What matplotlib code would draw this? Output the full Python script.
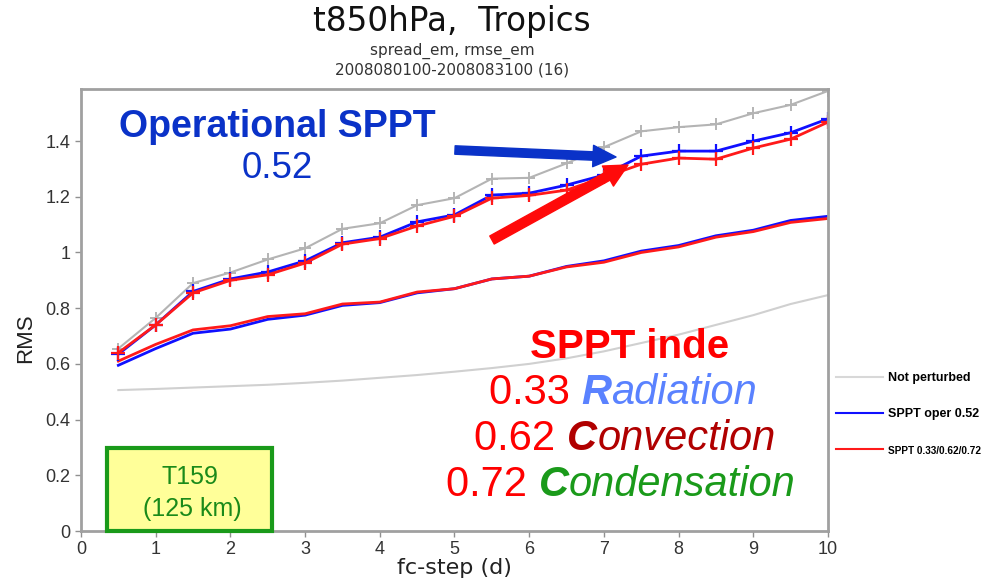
import matplotlib
matplotlib.use("Agg")
import matplotlib.pyplot as plt
from matplotlib.patches import Rectangle
from matplotlib.lines import Line2D
from matplotlib.ticker import FuncFormatter

plt.rcParams['font.family'] = ['Liberation Sans', 'DejaVu Sans']

# forecast step (days)
steps = [0.5, 1, 1.5, 2, 2.5, 3, 3.5, 4, 4.5, 5,
         5.5, 6, 6.5, 7, 7.5, 8, 8.5, 9, 9.5, 10]

# rmse of ensemble mean (with + markers)
rmse_noper = [0.655, 0.765, 0.89, 0.928, 0.975, 1.015, 1.085, 1.105, 1.17, 1.195,
              1.265, 1.268, 1.32, 1.378, 1.435, 1.45, 1.46, 1.50, 1.53, 1.58]
rmse_oper = [0.635, 0.74, 0.86, 0.905, 0.93, 0.97, 1.035, 1.055, 1.11, 1.135,
             1.206, 1.213, 1.242, 1.278, 1.346, 1.364, 1.364, 1.40, 1.43, 1.48]
rmse_inde = [0.64, 0.74, 0.855, 0.90, 0.92, 0.962, 1.03, 1.05, 1.095, 1.13,
             1.195, 1.205, 1.224, 1.27, 1.317, 1.339, 1.335, 1.375, 1.407, 1.468]

# ensemble spread (no markers)
spread_noper = [0.506, 0.51, 0.515, 0.52, 0.525, 0.532, 0.54, 0.55, 0.56, 0.572,
                0.585, 0.60, 0.62, 0.645, 0.675, 0.705, 0.74, 0.775, 0.815, 0.847]
spread_oper = [0.595, 0.655, 0.71, 0.725, 0.76, 0.775, 0.81, 0.82, 0.855, 0.87,
               0.905, 0.915, 0.95, 0.97, 1.005, 1.025, 1.06, 1.08, 1.115, 1.13]
spread_inde = [0.61, 0.67, 0.722, 0.737, 0.77, 0.78, 0.815, 0.822, 0.858, 0.87,
               0.905, 0.915, 0.948, 0.965, 1.0, 1.02, 1.055, 1.075, 1.108, 1.122]

legend_labels = ["Not perturbed", "SPPT oper 0.52", "SPPT 0.33/0.62/0.72"]

W, H = 995, 581
fig = plt.figure(figsize=(W / 100, H / 100), dpi=100)
ax = fig.add_axes([81 / W, 1 - 531 / H, (828 - 81) / W, (531 - 89) / H])

GRAY_R = '#b4b4b4'
GRAY_S = '#d0d0d0'
BLUE = '#1010ff'
RED = '#ff1a1a'
WIDE = ['DejaVu Sans']

ax.plot(steps, spread_noper, color=GRAY_S, lw=1.5)
ax.plot(steps, spread_oper, color=BLUE, lw=2)
ax.plot(steps, spread_inde, color=RED, lw=2)
ax.plot(steps, rmse_noper, color=GRAY_R, lw=1.5, marker='+', ms=9, mew=1.4)
ax.plot(steps, rmse_oper, color=BLUE, lw=2, marker='+', ms=10, mew=1.6)
ax.plot(steps, rmse_inde, color=RED, lw=2, marker='+', ms=10, mew=1.6)

ax.set_xlim(0, 10)
ax.set_ylim(0, 1.587)
ax.set_xticks(range(0, 11))
ax.set_yticks([0, 0.2, 0.4, 0.6, 0.8, 1.0, 1.2, 1.4])
ax.yaxis.set_major_formatter(FuncFormatter(lambda v, p: '%g' % round(v, 1)))
for s in ax.spines.values():
    s.set_color('#a0a0a0')
    s.set_linewidth(2)
ax.tick_params(colors='#909090', labelcolor='#333333', labelsize=13,
               length=4, width=1, direction='out')
ax.set_xlabel('fc-step (d)', fontsize=16, color='#222222', labelpad=0,
              family=WIDE)
fig.text(26 / W, 1 - 338 / H, 'RMS', fontsize=16, color='#222222',
         rotation=90, ha='center', va='center')

# titles
fig.text(452 / W, 1 - 21 / H, 't850hPa,  Tropics', fontsize=23.5,
         ha='center', va='center', color='#111111', family=WIDE)
fig.text(452 / W, 1 - 51 / H, 'spread_em, rmse_em', fontsize=11,
         ha='center', va='center', color='#333333', family=WIDE)
fig.text(452 / W, 1 - 70 / H, '2008080100-2008083100 (16)', fontsize=11,
         ha='center', va='center', color='#333333', family=WIDE)

# legend outside on the right
handles = [Line2D([], [], color='#d8d8d8', lw=1.5),
           Line2D([], [], color=BLUE, lw=1.5),
           Line2D([], [], color=RED, lw=1.5)]
leg = fig.legend(handles, legend_labels, loc='upper left',
                 bbox_to_anchor=(836 / W, 1 - 372 / H), frameon=False,
                 fontsize=9, handlelength=3.8, handletextpad=0.4,
                 labelspacing=1.95, borderaxespad=0, borderpad=0)
for t in leg.get_texts():
    t.set_fontweight('bold')
leg.get_texts()[2].set_fontsize(7.2)

# annotations
fig.text(277 / W, 1 - 127 / H, 'Operational SPPT', fontsize=27, fontweight='bold',
         color='#0a32c8', ha='center', va='center')
fig.text(277 / W, 1 - 168 / H, '0.52', fontsize=26.5, color='#0a32c8',
         ha='center', va='center')
fig.text(630 / W, 1 - 347 / H, 'SPPT inde', fontsize=29, fontweight='bold',
         color='#ff0000', ha='center', va='center')

fig.canvas.draw()
renderer = fig.canvas.get_renderer()


def rich_line(xc, y, pieces, size=30):
    texts = []
    for s, c, w, st in pieces:
        t = fig.text(0, 1 - y / H, s, fontsize=size, color=c, fontweight=w,
                     fontstyle=st, va='center', ha='left')
        texts.append(t)
    widths = [t.get_window_extent(renderer).width for t in texts]
    x = xc - sum(widths) / 2
    for t, w in zip(texts, widths):
        t.set_x(x / W)
        x += w


rich_line(623, 393, [('0.33 ', '#ff0000', 'normal', 'normal'),
                     ('R', '#5a82ff', 'bold', 'italic'),
                     ('adiation', '#5a82ff', 'normal', 'italic')])
rich_line(625, 439, [('0.62 ', '#ff0000', 'normal', 'normal'),
                     ('C', '#b00000', 'bold', 'italic'),
                     ('onvection', '#b00000', 'normal', 'italic')])
rich_line(621, 485, [('0.72 ', '#ff0000', 'normal', 'normal'),
                     ('C', '#1a9a1a', 'bold', 'italic'),
                     ('ondensation', '#1a9a1a', 'normal', 'italic')])

# arrows
ax.annotate('', xy=(616, H - 157), xytext=(455, H - 150), xycoords='figure pixels',
            textcoords='figure pixels',
            arrowprops=dict(arrowstyle='simple,head_length=1.5,head_width=1.4,tail_width=0.55',
                            color='#0a32c8', mutation_scale=11, shrinkA=0, shrinkB=0))
ax.annotate('', xy=(628, H - 165), xytext=(492, H - 240), xycoords='figure pixels',
            textcoords='figure pixels',
            arrowprops=dict(arrowstyle='simple,head_length=1.5,head_width=1.5,tail_width=0.6',
                            color='#ff0a0a', mutation_scale=11, shrinkA=0, shrinkB=0))

# resolution box
fig.add_artist(Rectangle((107 / W, 1 - 531 / H), 165 / W, 83 / H,
                         transform=fig.transFigure, facecolor='#ffff99',
                         edgecolor='#1a9a1a', lw=3, zorder=5))
fig.text(190 / W, 1 - 477 / H, 'T159', fontsize=18, color='#1a8a1a',
         ha='center', va='center', zorder=6)
fig.text(192 / W, 1 - 509 / H, '(125 km)', fontsize=18, color='#1a8a1a',
         ha='center', va='center', zorder=6)

fig.savefig('out.png', dpi=100)
